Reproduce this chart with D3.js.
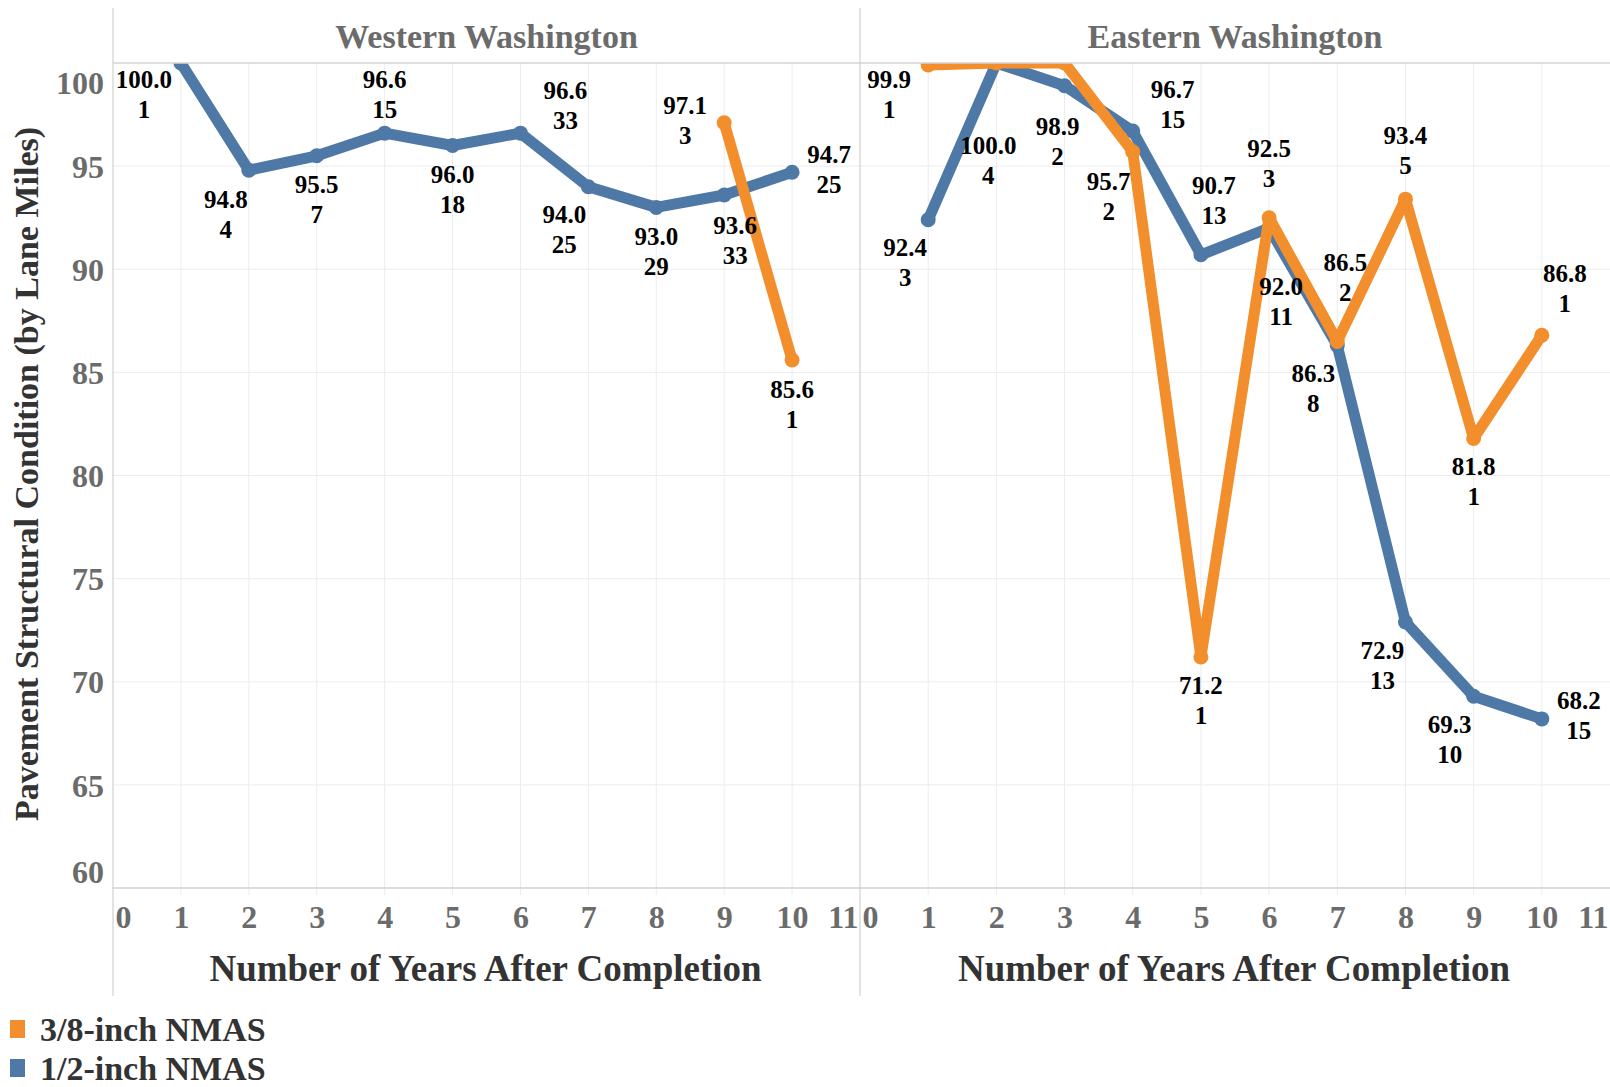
<!DOCTYPE html>
<html>
<head>
<meta charset="utf-8">
<script src="https://cdn.jsdelivr.net/npm/d3@7"></script>
<style>
  html, body { margin: 0; padding: 0; background: #fff; }
  svg { display: block; font-family: "Liberation Serif", "Times New Roman", serif; font-weight: bold; }
</style>
</head>
<body>
<svg id="chart" width="1610" height="1087"></svg>
<script>
// ---------- DATA ----------
const panels = ["Western Washington", "Eastern Washington"];
const seriesNames = ["3/8-inch NMAS", "1/2-inch NMAS"];
const xTicks = [0, 1, 2, 3, 4, 5, 6, 7, 8, 9, 10, 11];
const yTicks = [60, 65, 70, 75, 80, 85, 90, 95, 100];

const westBlueYears  = [1, 2, 3, 4, 5, 6, 7, 8, 9, 10];
const westBlueVals   = [100.0, 94.8, 95.5, 96.6, 96.0, 96.6, 94.0, 93.0, 93.6, 94.7];
const westBlueCounts = [1, 4, 7, 15, 18, 33, 25, 29, 33, 25];

const westOrangeYears  = [9, 10];
const westOrangeVals   = [97.1, 85.6];
const westOrangeCounts = [3, 1];

const eastBlueYears  = [1, 2, 3, 4, 5, 6, 7, 8, 9, 10];
const eastBlueVals   = [92.4, 100.0, 98.9, 96.7, 90.7, 92.0, 86.3, 72.9, 69.3, 68.2];
const eastBlueCounts = [3, 4, 2, 15, 13, 11, 8, 13, 10, 15];

const eastOrangeYears  = [1, 2, 3, 4, 5, 6, 7, 8, 9, 10];
const eastOrangeVals   = [99.9, 100.0, 100.0, 95.7, 71.2, 92.5, 86.5, 93.4, 81.8, 86.8];
const eastOrangeCounts = [1, null, null, 2, 1, 3, 2, 5, 1, 1];

// ---------- LAYOUT (label placement offsets, px) ----------
const westBlueLabelOff   = [[-37,31],[-23,44],[0,44],[0,-39],[0,44],[45,-28],[-24,43],[0,44],[11,45],[37,-3]];
const westOrangeLabelOff = [[-39,-2],[0,44]];
const eastBlueLabelOff   = [[-23,43],[-8,97],[-7,56],[40,-27],[13,-54],[12,73],[-24,43],[-23,44],[-24,43],[37,-3]];
const eastOrangeLabelOff = [[-39,29],null,null,[-24,45],[0,43],[0,-54],[8,-64],[0,-49],[0,43],[23,-47]];

const BLUE = "#4e79a7", ORANGE = "#f28e2b";

const svg = d3.select("#chart");
const plotTop = 63, plotBottom = 888, headTop = 8, panelBottom = 996;
const panelX = [[113, 860], [860, 1610]];

const y = d3.scaleLinear().domain([60, 100]).range([plotBottom, plotTop]);

const defs = svg.append("defs");

function zip(years, vals, counts, offs) {
  return years.map((yr, i) => ({ x: yr, v: vals[i], n: counts[i], off: offs[i] }));
}

const panelSeries = [
  [ { color: BLUE, data: zip(westBlueYears, westBlueVals, westBlueCounts, westBlueLabelOff) },
    { color: ORANGE, data: zip(westOrangeYears, westOrangeVals, westOrangeCounts, westOrangeLabelOff) } ],
  [ { color: BLUE, data: zip(eastBlueYears, eastBlueVals, eastBlueCounts, eastBlueLabelOff) },
    { color: ORANGE, data: zip(eastOrangeYears, eastOrangeVals, eastOrangeCounts, eastOrangeLabelOff) } ]
];

panels.forEach((name, pi) => {
  const [x0, x1] = panelX[pi];
  const x = d3.scaleLinear().domain([0, 11]).range([x0, x1]);
  const g = svg.append("g");

  // gridlines
  g.append("g").selectAll("line").data(yTicks.filter(t => t > 60 && t < 100)).join("line")
    .attr("x1", x0).attr("x2", x1).attr("y1", d => y(d)).attr("y2", d => y(d))
    .attr("stroke", "#ececec").attr("stroke-width", 1);
  g.append("g").selectAll("line").data(xTicks.filter(t => t > 0 && t < 11)).join("line")
    .attr("x1", d => x(d)).attr("x2", d => x(d)).attr("y1", plotTop).attr("y2", plotBottom + 7)
    .attr("stroke", "#ececec").attr("stroke-width", 1);

  // header title
  g.append("text").attr("x", (x0 + x1) / 2).attr("y", 36)
    .attr("text-anchor", "middle").attr("dominant-baseline", "central")
    .attr("font-size", 34).attr("fill", "#6b6b6b").text(name);

  // x axis
  const xa = g.append("g").attr("transform", `translate(0,${plotBottom})`)
    .call(d3.axisBottom(x).tickValues(xTicks).tickSize(0).tickPadding(0));
  xa.select(".domain").remove();
  xa.selectAll("text").attr("font-size", 32).attr("fill", "#6b6b6b")
    .attr("font-family", "Liberation Serif, serif").attr("font-weight", "bold")
    .attr("y", 40).attr("dy", 0)
    .attr("text-anchor", d => d === 0 ? "start" : d === 11 ? "end" : "middle")
    .attr("dx", d => d === 0 ? 2 : d === 11 ? -2 : 0);

  // x title
  g.append("text").attr("x", (x0 + x1) / 2 - 1).attr("y", 981)
    .attr("text-anchor", "middle").attr("font-size", 37).attr("fill", "#333")
    .text("Number of Years After Completion");

  // clip
  const cid = "clip" + pi;
  defs.append("clipPath").attr("id", cid).append("rect")
    .attr("x", x0).attr("y", plotTop).attr("width", x1 - x0).attr("height", plotBottom - plotTop);

  const marks = g.append("g").attr("clip-path", `url(#${cid})`);
  const line = d3.line().x(d => x(d.x)).y(d => y(d.v));
  panelSeries[pi].forEach(s => {
    marks.append("path").datum(s.data).attr("d", line)
      .attr("fill", "none").attr("stroke", s.color).attr("stroke-width", 11)
      .attr("stroke-linejoin", "round");
    marks.append("g").selectAll("circle").data(s.data).join("circle")
      .attr("cx", d => x(d.x)).attr("cy", d => y(d.v)).attr("r", 7.5).attr("fill", s.color);
  });

  // labels
  const lab = g.append("g");
  panelSeries[pi].forEach(s => {
    const withLab = s.data.filter(d => d.off && d.n != null);
    const t = lab.selectAll(null).data(withLab).join("text")
      .attr("text-anchor", "middle").attr("font-size", 25).attr("fill", "#000");
    t.append("tspan").attr("x", d => x(d.x) + d.off[0]).attr("y", d => y(d.v) + d.off[1] - 15)
      .attr("dominant-baseline", "central").text(d => d.v.toFixed(1));
    t.append("tspan").attr("x", d => x(d.x) + d.off[0]).attr("y", d => y(d.v) + d.off[1] + 15)
      .attr("dominant-baseline", "central").text(d => d.n);
  });
});

// frame lines
svg.append("line").attr("x1", 113).attr("x2", 1610).attr("y1", plotTop).attr("y2", plotTop)
  .attr("stroke", "#d4d4d4").attr("stroke-width", 1.5);
svg.append("line").attr("x1", 113).attr("x2", 1610).attr("y1", plotBottom).attr("y2", plotBottom)
  .attr("stroke", "#d0d0d0").attr("stroke-width", 1.5);
[113, 860].forEach(xx => {
  svg.append("line").attr("x1", xx).attr("x2", xx).attr("y1", headTop).attr("y2", panelBottom)
    .attr("stroke", "#d0d0d0").attr("stroke-width", 1.2);
});

// y axis
const ya = svg.append("g").attr("transform", "translate(104,0)")
  .call(d3.axisLeft(y).tickValues(yTicks).tickSize(0).tickPadding(0));
ya.select(".domain").remove();
ya.selectAll("text").attr("font-size", 32).attr("fill", "#6b6b6b")
  .attr("font-family", "Liberation Serif, serif").attr("font-weight", "bold")
  .attr("x", 0).attr("dy", "0.35em")
  .attr("transform", d => d === 100 ? "translate(0,19)" : d === 60 ? "translate(0,-17)" : null);

// y title
svg.append("text").attr("transform", "translate(38,474) rotate(-90)")
  .attr("text-anchor", "middle").attr("font-size", 34).attr("fill", "#333")
  .text("Pavement Structural Condition (by Lane Miles)");

// legend
const legColors = [ORANGE, BLUE];
const leg = svg.append("g");
seriesNames.forEach((nm, i) => {
  const cy = 1029 + i * 39;
  leg.append("rect").attr("x", 10).attr("y", cy - 9).attr("width", 15).attr("height", 18)
    .attr("fill", legColors[i]);
  leg.append("text").attr("x", 40).attr("y", cy).attr("dominant-baseline", "central")
    .attr("font-size", 34).attr("fill", "#333").text(nm);
});
</script>
</body>
</html>
